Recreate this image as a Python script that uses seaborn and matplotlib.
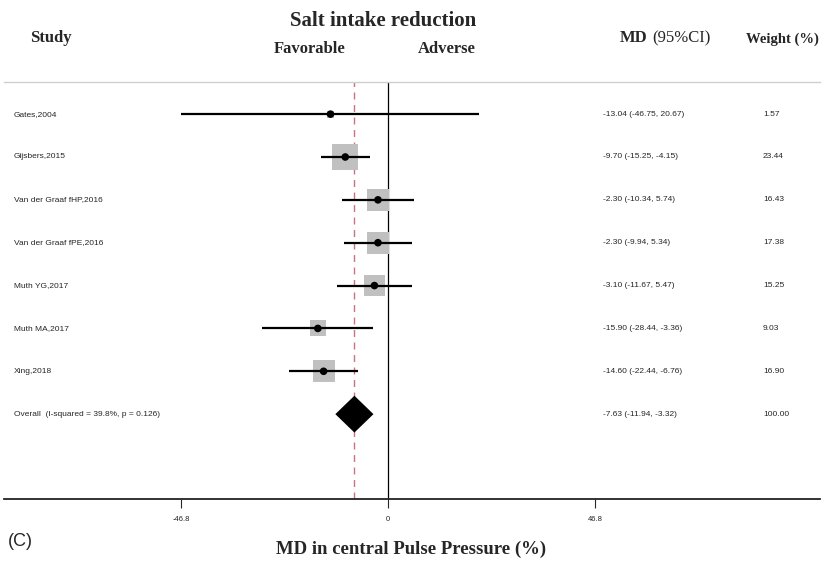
import matplotlib
matplotlib.use("Agg")
import matplotlib.pyplot as plt
import matplotlib.transforms as mtransforms
import seaborn as sns
import numpy as np
import pandas as pd

studies = ["Gates,2004", "Gijsbers,2015", "Van der Graaf fHP,2016", "Van der Graaf fPE,2016",
           "Muth YG,2017", "Muth MA,2017", "Xing,2018"]
md = [-13.04, -9.70, -2.30, -2.30, -3.10, -15.90, -14.60]
ci_lo = [-46.75, -15.25, -10.34, -9.94, -11.67, -28.44, -22.44]
ci_hi = [20.67, -4.15, 5.74, 5.34, 5.47, -3.36, -6.76]
weights = [1.57, 23.44, 16.43, 17.38, 15.25, 9.03, 16.90]

overall_label = "Overall  (I-squared = 39.8%, p = 0.126)"
overall_md = -7.63
overall_lo = -11.94
overall_hi = -3.32
overall_weight = 100.00

xticks = [-46.8, 0, 46.8]
xtick_labels = ["-46.8", "0", "46.8"]

df = pd.DataFrame({"study": studies, "md": md, "lo": ci_lo, "hi": ci_hi, "w": weights})
df["row"] = np.arange(len(df))
overall_row = len(df)

sns.set_style("white")
plt.rcParams["font.family"] = ["Liberation Sans", "DejaVu Sans"]

fig = plt.figure(figsize=(8.24, 5.62), dpi=100)
ax = fig.add_axes([4 / 824, 1 - 499 / 562, 816 / 824, (499 - 82) / 562])

# weight boxes (area ~ weight)
k = 14.96
sns.scatterplot(data=df, x="md", y="row", size="w", sizes=(k * min(weights), k * max(weights)),
                size_norm=(min(weights), max(weights)), marker="s", color="#c0c0c0",
                edgecolor="none", legend=False, ax=ax, zorder=2)
# CI lines
ax.hlines(df["row"], df["lo"], df["hi"], color="black", lw=1.6, zorder=3)
# point estimates
sns.scatterplot(data=df, x="md", y="row", color="black", s=30, edgecolor="none",
                ax=ax, zorder=4, legend=False)

# overall diamond
h = 0.43
ax.fill([overall_lo, overall_md, overall_hi, overall_md],
        [overall_row, overall_row - h, overall_row, overall_row + h],
        color="black", lw=0, zorder=4)

ax.axvline(0, color="black", lw=0.9, zorder=1)
ax.axvline(overall_md, color="#c8737d", lw=1.0, ls=(0, (5, 4)), zorder=1)

ax.set_xlim(-86.9, 97.7)
ax.set_ylim(8.98, -0.75)
ax.set_xticks(xticks)
ax.set_xticklabels(xtick_labels, fontsize=5.5)
ax.tick_params(axis="x", direction="out", length=6.5, width=0.8, pad=6, bottom=True)
ax.set_yticks([])
ax.set_xlabel("")
ax.set_ylabel("")
for s in ["left", "right"]:
    ax.spines[s].set_visible(False)
ax.spines["top"].set_color("#cfcfcf")
ax.spines["top"].set_linewidth(1.0)
ax.spines["bottom"].set_color("#222222")
ax.spines["bottom"].set_linewidth(1.3)

trans = mtransforms.blended_transform_factory(ax.transAxes, ax.transData)
for i, row in df.iterrows():
    ax.text(0.012, row["row"], row["study"], transform=trans, fontsize=6, va="center", ha="left")
    ax.text(0.734, row["row"], f"{row['md']:.2f} ({row['lo']:.2f}, {row['hi']:.2f})",
            transform=trans, fontsize=6, va="center", ha="left")
    ax.text(0.930, row["row"], f"{row['w']:.2f}", transform=trans, fontsize=6, va="center", ha="left")
ax.text(0.012, overall_row, overall_label, transform=trans, fontsize=6, va="center", ha="left")
ax.text(0.734, overall_row, f"{overall_md:.2f} ({overall_lo:.2f}, {overall_hi:.2f})",
        transform=trans, fontsize=6, va="center", ha="left")
ax.text(0.930, overall_row, f"{overall_weight:.2f}", transform=trans, fontsize=6, va="center", ha="left")

serif = ["Liberation Serif", "DejaVu Serif"]
def ftext(x, y, s, **kw):
    fig.text(x / 824, 1 - y / 562, s, family=serif, **kw)

ftext(383, 21, "Salt intake reduction", fontsize=15, weight="bold", ha="center", va="center")
ftext(30, 38, "Study", fontsize=12, weight="bold", ha="left", va="center")
ftext(274, 49, "Favorable", fontsize=12, weight="bold", ha="left", va="center")
ftext(418, 49, "Adverse", fontsize=12, weight="bold", ha="left", va="center")
ftext(620, 38, "MD", fontsize=12, weight="bold", ha="left", va="center")
ftext(652, 38, "(95%CI)", fontsize=12, ha="left", va="center")
ftext(746, 39, "Weight (%)", fontsize=10.5, weight="bold", ha="left", va="center")
ftext(411, 549, "MD in central Pulse Pressure (%)", fontsize=13.5, weight="bold", ha="center", va="center")
fig.text(8 / 824, 1 - 542 / 562, "(C)", fontsize=13, ha="left", va="center",
         family=["Liberation Sans", "DejaVu Sans"])

fig.savefig("out.png", dpi=100)
